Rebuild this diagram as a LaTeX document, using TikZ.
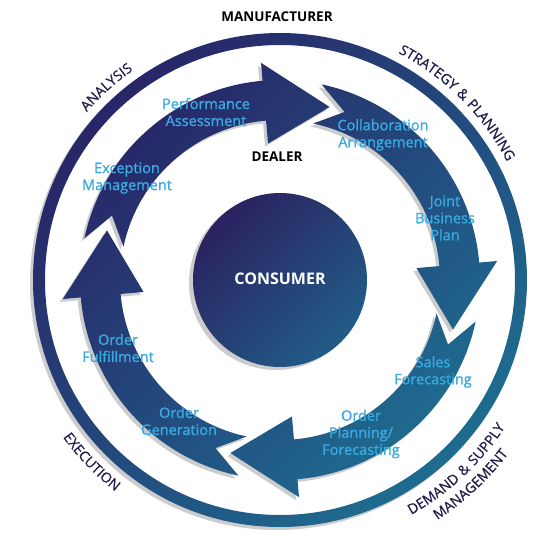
\documentclass[tikz,border=0pt]{standalone}
\usepackage{fontspec}
\setmainfont{Open Sans}
\newfontfamily\ringfont[LetterSpace=7, FakeBold=0.7]{Open Sans}
\newfontfamily\stepfont[FakeBold=1.3]{Open Sans}
\usetikzlibrary{decorations.text}
\definecolor{cyclenavy}{RGB}{40,38,104}
\definecolor{cycleteal}{RGB}{30,108,144}
\definecolor{corenavy}{RGB}{42,34,96}
\definecolor{coreteal}{RGB}{34,92,136}
\definecolor{stepblue}{RGB}{58,170,224}
\definecolor{ringnavy}{RGB}{32,30,76}

% one curved arrow, #1 = angle of its tip
\newcommand{\cyclearrow}[1]{%
  (#1+94:200) arc[start angle=#1+94, end angle=#1+21, radius=200]
  -- (#1+21:218) -- (#1:180) -- (#1+21:137) -- (#1+21:160)
  arc[start angle=#1+21, end angle=#1+94, radius=160]
  -- (#1+85:180) -- cycle}

\begin{document}
\begin{tikzpicture}[x=1pt, y=1pt,
	shadow/.style={fill=black!20},
	steplabel/.style={text=stepblue, align=center, font=\stepfont\fontsize{14.5}{17}\selectfont},
	title/.style={font=\bfseries\fontsize{13.5}{15}\selectfont}]
	\useasboundingbox (-280,-280) rectangle (280,280);
	% outer ring
	\draw[black!20, line width=12, shift={(-3,-3)}] (135:241) arc[start angle=135, end angle=315, radius=241];
	\shade[even odd rule, top color=cyclenavy, bottom color=cycleteal, shading angle=45]
		(0,0) circle[radius=247] (0,0) circle[radius=235];
	\path[decorate, decoration={text along path, text align=center,
		text={|\ringfont\fontsize{14}{16}\selectfont\color{ringnavy}|ANALYSIS}}]
		(152:256) arc[start angle=152, end angle=112, radius=256];
	\path[decorate, decoration={text along path, text align=center,
		text={|\ringfont\fontsize{14}{16}\selectfont\color{ringnavy}|STRATEGY {\&} PLANNING}}]
		(75:256) arc[start angle=75, end angle=15, radius=256];
	\path[decorate, decoration={text along path, text align=center,
		text={|\ringfont\fontsize{14}{16}\selectfont\color{ringnavy}|EXECUTION}}]
		(199:268) arc[start angle=199, end angle=249, radius=268];
	\path[decorate, decoration={text along path, text align=center,
		text={|\ringfont\fontsize{14}{16}\selectfont\color{ringnavy}|DEMAND {\&} SUPPLY}}]
		(-82:269) arc[start angle=-82, end angle=-12, radius=269];
	\path[decorate, decoration={text along path, text align=center,
		text={|\ringfont\fontsize{14}{16}\selectfont\color{ringnavy}|MANAGEMENT}}]
		(-82:287) arc[start angle=-82, end angle=-12, radius=287];
	% the four arrows
	\fill[shadow, shift={(-3,-3)}] \cyclearrow{74} \cyclearrow{-16} \cyclearrow{-106} \cyclearrow{-196};
	\shade[top color=cyclenavy, bottom color=cycleteal, shading angle=45]
		\cyclearrow{74} \cyclearrow{-16} \cyclearrow{-106} \cyclearrow{-196};
	% consumer in the middle
	\fill[shadow] (-4,-3) circle[radius=87];
	\shade[top color=corenavy, bottom color=coreteal, shading angle=45] (0,0) circle[radius=87];
	\node[title, text=white, font=\bfseries\fontsize{16}{18}\selectfont] (consumer) at (0,1) {CONSUMER};
	\node[title] (manufacturer) at (-3,263) {MANUFACTURER};
	\node[title] (dealer) at (-3,123) {DEALER};
	\node[steplabel] (performance) at (-74,168) {Performance\\Assessment};
	\node[steplabel] (exception) at (-153,102) {Exception\\Management};
	\node[steplabel] (collaboration) at (103,145) {Collaboration\\Arrangement};
	\node[steplabel] (joint) at (165,62) {Joint\\Business\\Plan};
	\node[steplabel] (sales) at (153,-92) {Sales\\Forecasting};
	\node[steplabel] (planning) at (81,-154) {Order\\Planning/\\Forecasting};
	\node[steplabel] (generation) at (-101,-141) {Order\\Generation};
	\node[steplabel] (fulfillment) at (-162,-68) {Order\\Fulfillment};
\end{tikzpicture}
\end{document}
